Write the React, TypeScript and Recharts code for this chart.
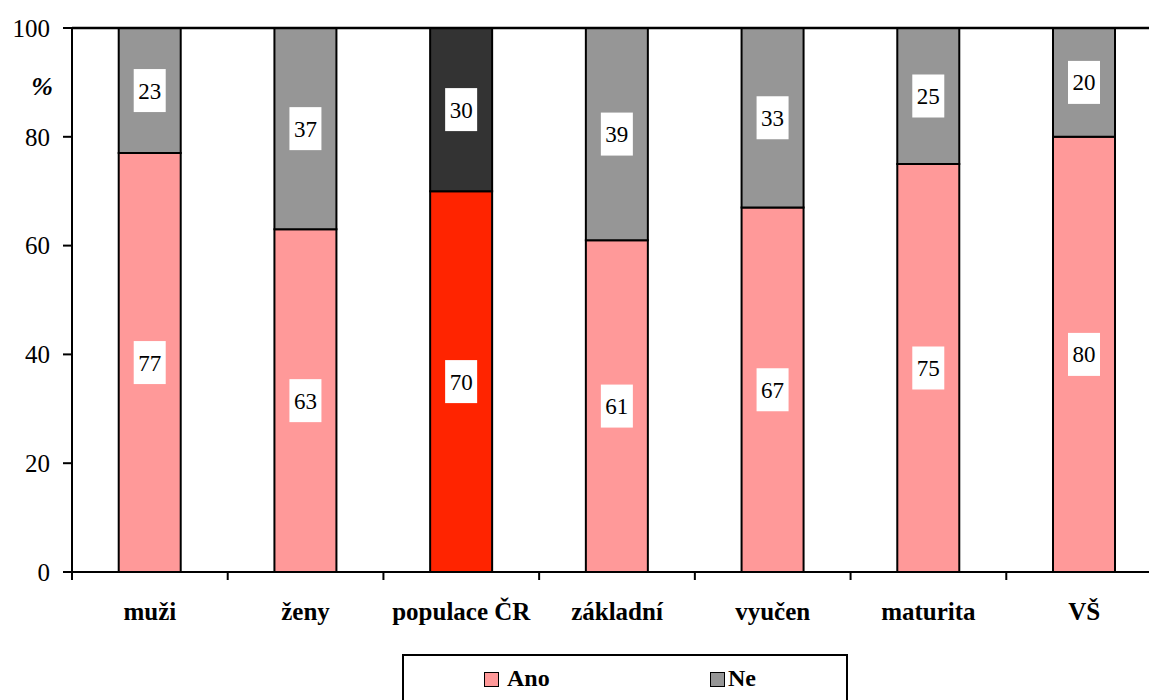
import { BarChart, Bar, XAxis, YAxis, Cell, LabelList, ReferenceLine } from 'recharts'

const categories = ['muži', 'ženy', 'populace ČR', 'základní', 'vyučen', 'maturita', 'VŠ']
const ano = [77, 63, 70, 61, 67, 75, 80]
const ne = [23, 37, 30, 39, 33, 25, 20]
const yTicks = [0, 20, 40, 60, 80, 100]

const FONT = 'Liberation Serif, Times New Roman, Times, DejaVu Serif, serif'
const ANO = '#ff9999'
const NE = '#969696'
const HL_ANO = '#ff2400'
const HL_NE = '#333333'
const HIGHLIGHT = 'populace ČR'

const LEFT = 72
const PLOT_W = 1090
const STEP = PLOT_W / categories.length

const data = categories.map((c, i) => ({ name: c, ano: ano[i], ne: ne[i] }))

function BoxLabel(props: any) {
  const { x, y, width, height, value } = props
  const cx = x + width / 2
  const cy = y + height / 2
  return (
    <g>
      <rect x={cx - 16} y={cy - 21.5} width={32} height={43} fill="#fff" />
      <text x={cx} y={cy + 8} textAnchor="middle" fontSize={23} style={{ fontFamily: FONT }} fill="#000">
        {value}
      </text>
    </g>
  )
}

function XTick(props: any) {
  const { x, y, payload } = props
  const bx = x - STEP / 2
  return (
    <g>
      <line x1={bx} y1={y} x2={bx} y2={y + 8} stroke="#000" strokeWidth={2} />
      <text x={x} y={y + 48} textAnchor="middle" fontSize={25} fontWeight="bold" style={{ fontFamily: FONT }} fill="#000">
        {payload.value}
      </text>
    </g>
  )
}

export default function App() {
  return (
    <div style={{ position: 'fixed', left: 0, top: 0, width: 1149, height: 700, overflow: 'hidden', background: '#fff', fontFamily: FONT }}>
      <BarChart
        width={LEFT + PLOT_W + 18}
        height={700}
        data={data}
        margin={{ top: 28, right: 18, left: 0, bottom: 78 }}
        barCategoryGap="30%"
        style={{ fontFamily: FONT }}
      >
        <XAxis
          dataKey="name"
          height={50}
          tickSize={0}
          tickMargin={0}
          tick={<XTick />}
          axisLine={{ stroke: '#000', strokeWidth: 2 }}
          interval={0}
        />
        <YAxis
          width={LEFT}
          domain={[0, 100]}
          ticks={yTicks}
          tickSize={9}
          tickMargin={13}
          tickLine={{ stroke: '#000', strokeWidth: 2 }}
          axisLine={{ stroke: '#000', strokeWidth: 2 }}
          tick={{ fontSize: 25, fill: '#000', style: { fontFamily: FONT } }}
        />
        <ReferenceLine y={100} stroke="#000" strokeWidth={2.5} />
        <Bar dataKey="ano" stackId="a" stroke="#000" strokeWidth={2} isAnimationActive={false}>
          {data.map((d) => (
            <Cell key={d.name} fill={d.name === HIGHLIGHT ? HL_ANO : ANO} />
          ))}
          <LabelList dataKey="ano" content={<BoxLabel />} />
        </Bar>
        <Bar dataKey="ne" stackId="a" stroke="#000" strokeWidth={2} isAnimationActive={false}>
          {data.map((d) => (
            <Cell key={d.name} fill={d.name === HIGHLIGHT ? HL_NE : NE} />
          ))}
          <LabelList dataKey="ne" content={<BoxLabel />} />
        </Bar>
        <text x={42} y={95} textAnchor="middle" fontSize={26} fontStyle="italic" fontWeight="bold" style={{ fontFamily: FONT }} fill="#000">
          %
        </text>
      </BarChart>
      <div
        style={{
          position: 'absolute',
          left: 402,
          top: 654,
          width: 442,
          height: 60,
          border: '2px solid #000',
          background: '#fff',
          fontFamily: FONT,
          fontWeight: 'bold',
          fontSize: 24,
        }}
      >
        <div style={{ position: 'absolute', left: 80, top: 16, width: 13, height: 13, background: ANO, border: '1.5px solid #000' }} />
        <div style={{ position: 'absolute', left: 103, top: 8, lineHeight: '28px' }}>Ano</div>
        <div style={{ position: 'absolute', left: 306, top: 16, width: 13, height: 13, background: NE, border: '1.5px solid #000' }} />
        <div style={{ position: 'absolute', left: 324, top: 8, lineHeight: '28px' }}>Ne</div>
      </div>
    </div>
  )
}
